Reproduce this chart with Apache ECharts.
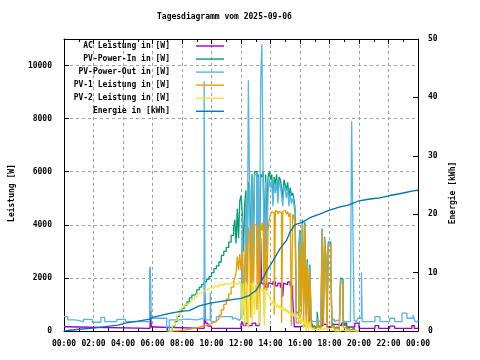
<!DOCTYPE html>
<html><head><meta charset="utf-8">
<script src="https://cdn.jsdelivr.net/npm/echarts@6/dist/echarts.min.js"></script>
<style>html,body{margin:0;padding:0;background:#fff}#c{width:480px;height:360px}</style>
</head><body><div id="c"></div>
<script>
const chartTitle = 'Tagesdiagramm vom 2025-09-06';
const seriesNames = ['AC Leistung in [W]','PV-Power-In in [W]','PV-Power-Out in [W]','PV-1 Leistung in [W]','PV-2 Leistung in [W]','Energie in [kWh]'];
const seriesColors = ['#9400d3','#009e73','#56b4e9','#e69f00','#f0e442','#0072b2'];
const leftAxisTitle = 'Leistung [W]';
const rightAxisTitle = 'Energie [kWh]';

// shared 5-minute sampling for the busy part of the day
const gridT = ["11:30","11:35","11:40","11:45","11:50","11:55",
"12:00","12:05","12:10","12:15","12:20","12:25","12:30","12:35","12:40","12:45","12:50","12:55",
"13:00","13:05","13:10","13:15","13:20","13:25","13:30","13:35","13:40","13:45","13:50","13:55",
"14:00","14:05","14:10","14:15","14:20","14:25","14:30","14:35","14:40","14:45","14:50","14:55",
"15:00","15:05","15:10","15:15","15:20","15:25","15:30","15:35","15:40","15:45","15:50","15:55",
"16:00","16:05","16:10","16:15","16:20","16:25","16:30","16:35","16:40","16:45","16:50","16:55",
"17:00","17:05","17:10","17:15","17:20","17:25","17:30","17:35","17:40","17:45","17:50","17:55",
"18:00","18:05","18:10","18:15","18:20","18:25","18:30","18:35","18:40","18:45","18:50","18:55",
"19:00","19:05","19:10","19:15","19:20","19:25","19:30","19:35","19:40","19:45","19:50","19:55",
"20:00"];

// morning sampling for PV-In, PV-1, PV-2
const morningT = ["07:05","07:10","07:20","07:30","07:40","07:50","08:00","08:10","08:20","08:30","08:40","08:50","09:00","09:10","09:20","09:30","09:40","09:50","10:00","10:10","10:20","10:30","10:40","10:50","11:00","11:10","11:20"];

// AC Leistung
const acT = ["00:00","00:10","05:50","05:52","05:55","06:05","09:30","09:33","09:36","09:45","10:00","12:00","12:05","12:10","12:20","12:30","12:45","13:00","13:15","13:20","13:24","13:30","13:35","13:40","13:50","14:00","14:10","14:20","14:30","14:40","14:50","14:53","15:00","15:10","15:20","15:30","15:37","16:00","16:20","16:35","16:38","16:50","17:10","17:33","17:36","17:50","18:10","18:30","18:50","19:10","19:43","20:00","21:05","21:20","22:05","22:25","23:35","23:45","24:00"];
const acV = [160,100,100,750,150,100,100,1400,300,180,100,250,350,200,300,200,300,200,250,3500,1800,1750,1900,1650,1800,1750,1850,1700,1800,1650,1300,1800,1750,1850,1700,1300,160,200,150,1100,250,150,200,1150,250,150,250,200,300,150,300,100,200,100,180,100,200,100,100];

// PV-Power-In
const inMorningV = [0,0,150,350,550,730,850,980,1100,1250,1350,1420,1550,1650,1750,1850,1950,2050,2200,2350,2450,2600,2850,3000,3150,3350,3600];
const inGridV = [3900,4200,3300,4600,3500,4900,
 5100,4500,3000,4800,5300,2900,5600,5500,3000,5900,3500,6000,
 6000,3500,5900,2800,5900,5800,6000,3300,5900,4000,5800,6000,
 5700,5900,5000,5800,5500,5900,5100,5800,5700,5400,5000,5700,
 5500,5300,5600,5000,5400,5100,5200,5000,4600,700,700,3200,
 3800,1000,4200,1100,4100,700,2700,600,2500,500,150,200,
 100,150,725,100,200,100,3850,400,3550,2850,300,3350,
 3350,2450,200,300,100,150,100,100,150,2000,1950,300,
 200,300,100,150,50,50,100,100,50,0,0,0,
 0];

// PV-Power-Out
const outPreT = ["00:00","00:15","00:45","01:20","01:55","02:30","02:45","03:35","04:10","05:48","05:51","05:55","06:58","07:08","07:50","08:20","09:00","09:30","09:34","09:55","09:58","10:20","11:25"];
const outPreV = [540,420,350,440,330,510,350,440,350,2300,2420,480,0,420,450,420,480,9400,420,1430,350,540,450];
const outGridV = [500,450,450,450,400,450,
 500,4300,600,800,5000,1500,9450,5200,2000,5700,1800,5900,
 5900,2500,5800,1500,9450,10800,5900,2200,5600,3000,5200,5700,
 5400,5700,4700,5600,5200,5700,4800,5600,5500,5100,4700,5500,
 5300,5000,5400,4700,5200,4800,5000,4800,4400,500,500,3000,
 3700,900,4100,1000,4000,600,2600,500,2400,400,350,400,
 350,400,450,350,400,350,3800,500,3500,2800,400,3300,
 3300,2400,400,450,350,400,350,400,350,1950,1900,400,
 350,400,350,400,350,350,7900,4100,400,350,350,480,
 480];
const outPostT = ["20:10","20:13","21:05","21:25","22:05","22:25","22:55","23:15","23:40","23:48","24:00"];
const outPostV = [2200,350,540,350,480,350,670,480,600,350,400];

// PV-1 Leistung
const pv1MorningV = [0,0,0,0,10,20,30,50,60,80,100,120,150,170,200,220,250,280,320,380,450,600,800,1000,1200,1400,1650];
const pv1GridV = [1850,2000,2200,2800,2300,2900,
 2300,3000,800,2700,3300,300,3900,3600,500,4100,1000,4000,
 4000,800,3900,200,4100,3800,4100,500,4000,1500,3800,4200,
 4400,4500,4450,600,4550,4500,4400,4500,4450,300,4500,4550,
 4500,4400,4500,4300,4450,200,4400,4300,4000,300,300,2500,
 3300,600,4000,300,4000,200,2500,150,2300,200,100,150,
 50,100,400,50,150,50,3700,200,3400,2700,100,3200,
 3200,2350,150,200,50,100,80,50,100,1850,1800,200,
 100,150,50,80,30,20,50,50,20,0,0,0,
 0];

// PV-2 Leistung
const pv2MorningV = [0,0,200,400,600,800,900,1000,1050,1100,1200,1300,1400,1450,1500,1550,1600,1650,1600,1700,1650,1750,1700,1780,1750,1800,1780];
const pv2GridV = [1800,1780,1820,1750,1850,1800,
 1850,400,1800,200,1850,1700,100,1800,1750,300,1850,600,
 1750,1700,1650,300,1600,1500,1550,200,1450,1400,1350,1300,
 1170,1000,1120,950,1080,900,1000,850,950,800,900,750,
 860,700,800,650,750,600,700,550,620,500,560,400,
 500,300,550,100,500,0,400,0,350,100,50,100,
 50,50,100,30,50,0,150,0,100,100,0,100,
 80,50,20,50,0,30,0,20,0,50,50,0,
 0,0,0,0,0,0,0,0,0,0,0,0,
 0];

// Energie in kWh
const enT = ["00:00","01:00","02:00","02:40","03:40","04:15","05:00","05:50","06:00","07:10","08:00","08:30","09:10","10:00","11:00","11:30","12:00","12:30","12:50","13:00","13:15","13:45","14:10","14:40","15:05","15:20","15:40","16:10","16:40","17:20","18:00","18:40","19:20","20:00","20:45","21:25","22:05","22:45","23:40","24:00"];
const enV = [0,0.3,0.5,0.7,1.0,1.4,1.7,2.05,2.35,3.0,3.4,3.5,4.3,4.8,5.2,5.4,5.6,6.0,6.6,6.9,7.9,10.3,12.0,14.2,15.5,17.0,18.2,18.6,19.4,20.0,20.7,21.2,21.6,22.3,22.6,22.8,23.2,23.5,24.0,24.1];

function hrs(s){ const p = s.split(':'); return +p[0] + (+p[1])/60; }
function pairs(ts, vs){ return ts.map((t,i)=>[hrs(t), vs[i]]); }

const acData = pairs(acT, acV);
const inData = pairs(morningT, inMorningV).concat(pairs(gridT, inGridV));
const outData = pairs(outPreT, outPreV).concat(pairs(gridT, outGridV), pairs(outPostT, outPostV));
const pv1Data = pairs(morningT, pv1MorningV).concat(pairs(gridT, pv1GridV));
const pv2Data = pairs(morningT, pv2MorningV).concat(pairs(gridT, pv2GridV));
const enData = pairs(enT, enV);
const allData = [acData, inData, outData, pv1Data, pv2Data, enData];

const FONT = 'DejaVu Sans Mono';
const txt = {fontFamily: FONT, fontWeight: 'bold', fontSize: 8, color: '#000'};
function pad2(n){ return (n < 10 ? '0' : '') + n; }

const chart = echarts.init(document.getElementById('c'), null, {renderer: 'canvas'});

const legends = seriesNames.map((n, i) => ({
  data: [{name: n, icon: 'path://M0,0H28V1.4H0Z', itemStyle: {color: seriesColors[i]}}],
  right: 256, top: 42 + i * 13.05, orient: 'vertical', align: 'right',
  padding: 0, itemWidth: 28, itemHeight: 10, selectedMode: false, symbolKeepAspect: true,
  textStyle: Object.assign({}, txt, {padding: [0, 21, 0, 0]})
}));

const series = seriesNames.map((n, i) => ({
  name: n, type: 'line', data: allData[i], yAxisIndex: i === 5 ? 1 : 0,
  step: i === 5 ? false : 'end', showSymbol: false, symbol: 'none',
  lineStyle: {width: 1.3, color: seriesColors[i]}, itemStyle: {color: seriesColors[i]},
  animation: false, silent: true
}));

chart.setOption({
  animation: false,
  title: {text: chartTitle, left: 157, top: 13, padding: 0, textStyle: txt},
  legend: legends,
  grid: {left: 64, right: 62, top: 39, bottom: 29, outerBoundsMode: 'none', containLabel: false},
  xAxis: [{
    type: 'value', min: 0, max: 24, interval: 2,
    axisLine: {show: true, lineStyle: {color: '#000', width: 1}},
    axisTick: {show: true, inside: true, length: 5, lineStyle: {color: '#000'}},
    minorTick: {show: true, splitNumber: 2, length: 3, lineStyle: {color: '#000'}},
    axisLabel: Object.assign({}, txt, {margin: 9, formatter: v => pad2(v % 24) + ':00'}),
    splitLine: {show: true, lineStyle: {color: '#a0a0a0', type: [3, 3], width: 1}}
  }, {
    type: 'value', min: 0, max: 24, interval: 2, position: 'top',
    axisLine: {show: true, onZero: false, lineStyle: {color: '#000', width: 1}},
    axisTick: {show: true, inside: true, length: 5, lineStyle: {color: '#000'}},
    minorTick: {show: true, splitNumber: 2, length: 3, lineStyle: {color: '#000'}},
    axisLabel: {show: false}, splitLine: {show: false}
  }],
  yAxis: [{
    type: 'value', min: 0, max: 11000, interval: 2000, position: 'left',
    name: leftAxisTitle, nameLocation: 'middle', nameGap: 48, nameRotate: 90,
    nameTextStyle: Object.assign({}, txt, {padding: [0, 16, 0, 0]}),
    axisLine: {show: true, onZero: false, lineStyle: {color: '#000', width: 1}},
    axisTick: {show: true, inside: true, length: 5, lineStyle: {color: '#000'}},
    axisLabel: Object.assign({}, txt, {margin: 12, showMaxLabel: false, formatter: v => (v > 10000 ? '' : String(v))}),
    splitLine: {show: true, lineStyle: {color: '#a0a0a0', type: [3, 3], width: 1}}
  }, {
    type: 'value', min: 0, max: 50, interval: 10, position: 'right',
    name: rightAxisTitle, nameLocation: 'middle', nameGap: 30, nameRotate: 90,
    nameTextStyle: Object.assign({}, txt, {padding: [0, 16, 0, 0]}),
    axisLine: {show: true, onZero: false, lineStyle: {color: '#000', width: 1}},
    axisTick: {show: true, inside: true, length: 5, lineStyle: {color: '#000'}},
    axisLabel: Object.assign({}, txt, {margin: 10}),
    splitLine: {show: false}
  }],
  series: series
});
</script></body></html>
